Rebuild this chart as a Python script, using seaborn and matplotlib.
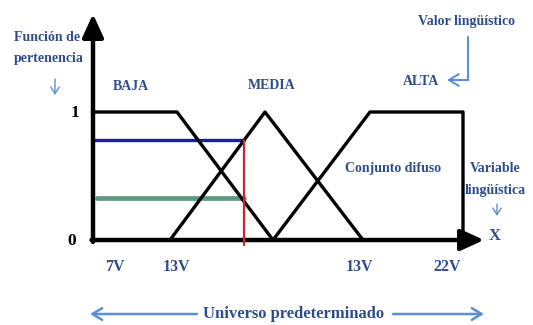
import numpy as np
import pandas as pd
import matplotlib
matplotlib.use("Agg")
import matplotlib.pyplot as plt
import seaborn as sns

# conjuntos difusos (x en unidades del universo, y = grado de pertenencia)
conjuntos = ["BAJA", "MEDIA", "ALTA"]
baja_x = [0.0, 8.4, 18.0]
baja_y = [1.0, 1.0, 0.0]
media_x = [7.7, 17.2, 27.0]
media_y = [0.0, 1.0, 0.0]
alta_x = [18.0, 27.7, 37.0, 37.0]
alta_y = [0.0, 1.0, 1.0, 0.0]

# entrada y grados de pertenencia
x_entrada = 15.1
mu_media = 0.78
mu_baja = 0.33

etiquetas_v = ["7V", "13V", "13V", "22V"]
etiquetas_y = ["0", "1"]

df = pd.concat([
    pd.DataFrame({"x": baja_x, "mu": baja_y, "conjunto": "BAJA"}),
    pd.DataFrame({"x": media_x, "mu": media_y, "conjunto": "MEDIA"}),
    pd.DataFrame({"x": alta_x, "mu": alta_y, "conjunto": "ALTA"}),
], ignore_index=True)

sns.set_theme(style="white")
plt.rcParams['font.family'] = ['Liberation Serif', 'DejaVu Serif']

fig = plt.figure(figsize=(5.33, 3.25), dpi=100)
ax = fig.add_axes([0, 0, 1, 1])
ax.set_xlim(-9.3, 44.0)
ax.set_ylim(-0.664, 1.875)
ax.axis('off')


def P(xp, yp):
    # pixel de la imagen -> coordenadas de datos
    return (xp - 93) / 10.0, (240 - yp) / 128.0


azul = "#2f4d8c"
azul_claro = "#5b8fd6"

# lineas de entrada
ax.plot([0, x_entrada], [mu_media, mu_media], color="#1c1ca8", lw=2.4, zorder=2)
ax.plot([0.4, x_entrada], [mu_baja, mu_baja], color="#4a9070", lw=3.4, alpha=0.9, zorder=2)
ax.plot([x_entrada, x_entrada], [-0.04, mu_media], color="#c8282c", lw=1.6, zorder=6)

sns.lineplot(data=df, x="x", y="mu", hue="conjunto", palette=["black"] * 3,
             estimator=None, sort=False, lw=2.4, legend=False, ax=ax, zorder=4)

# ejes con flechas
flecha = dict(arrowstyle="-|>,head_length=0.7,head_width=0.32", lw=3.2, color="black",
              mutation_scale=20, shrinkA=0, shrinkB=0)
ax.annotate("", xy=P(93, 14), xytext=(0, -0.015), arrowprops=flecha, zorder=5)
ax.annotate("", xy=P(484, 240), xytext=(-0.15, 0), arrowprops=flecha, zorder=5)

tf = dict(color=azul, fontweight="bold", fontsize=10)
ax.text(*P(75, 113), etiquetas_y[1], color="black", fontweight="bold", fontsize=12.5, ha="center", va="center")
ax.text(*P(72, 241), etiquetas_y[0], color="black", fontweight="bold", fontsize=12.5, ha="center", va="center")
ax.text(*P(495, 236), "X", ha="center", va="center", color=azul, fontweight="bold", fontsize=12)

ax.text(*P(131, 86), conjuntos[0], ha="center", va="center", **tf)
ax.text(*P(272, 85), conjuntos[1], ha="center", va="center", **tf)
ax.text(*P(421, 81), conjuntos[2], ha="center", va="center", **tf)

for xp, lab in zip([115, 176, 359, 447], etiquetas_v):
    ax.text(*P(xp, 267), lab, ha="center", va="center", color=azul, fontweight="bold", fontsize=11.5)

ax.text(*P(14, 37), "Función de", ha="left", va="center", **tf)
ax.text(*P(14, 58), "pertenencia", ha="left", va="center", **tf)
ax.text(*P(466, 21), "Valor lingüístico", ha="center", va="center", **tf)
ax.text(*P(393, 168), "Conjunto difuso", ha="center", va="center", **tf)
ax.text(*P(495, 168), "Variable", ha="center", va="center", **tf)
ax.text(*P(495, 190), "lingüística", ha="center", va="center", **tf)
ax.text(*P(294, 314), "Universo predeterminado", ha="center", va="center",
        color=azul, fontweight="bold", fontsize=12)

# flechas azules
fa = dict(arrowstyle="->,head_length=0.5,head_width=0.3", lw=1.8, color=azul_claro,
          mutation_scale=14, shrinkA=0, shrinkB=0)
ax.annotate("", xy=P(90, 314), xytext=P(197, 314), arrowprops=fa)
ax.annotate("", xy=P(484, 314), xytext=P(393, 314), arrowprops=fa)
vx, vy = zip(P(468, 37), P(468, 80))
ax.plot(vx, vy, color=azul_claro, lw=1.5)
ax.annotate("", xy=P(447, 80), xytext=P(468.5, 80),
            arrowprops=dict(fa, lw=1.5))
fp = dict(arrowstyle="->,head_length=0.4,head_width=0.25", lw=1.0, color=azul_claro,
          mutation_scale=12, shrinkA=0, shrinkB=0)
ax.annotate("", xy=P(55, 95), xytext=P(55, 79), arrowprops=fp)
ax.annotate("", xy=P(497, 216), xytext=P(497, 204), arrowprops=fp)

fig.savefig("out.png", dpi=100)
